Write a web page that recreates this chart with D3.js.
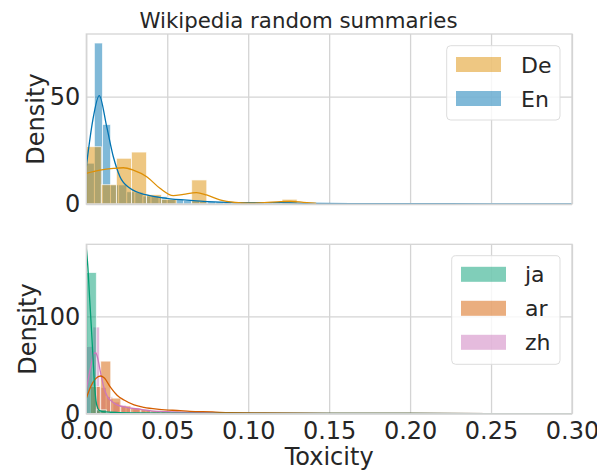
<!DOCTYPE html>
<html>
<head>
<meta charset="utf-8">
<script src="https://cdn.jsdelivr.net/npm/d3@7"></script>
<style>
  html, body { margin: 0; padding: 0; background: #fff; }
  svg { display: block; }
  text { font-family: "DejaVu Sans", sans-serif; fill: #262626; }
</style>
</head>
<body>
<svg id="chart" width="597" height="470"></svg>
<script>
// ---------------- data ----------------
const title = "Wikipedia random summaries";
const xLabel = "Toxicity";
const yLabel = "Density";
const xTicks = [0, 0.05, 0.10, 0.15, 0.20, 0.25, 0.30];
const xTickLabels = ["0.00", "0.05", "0.10", "0.15", "0.20", "0.25", "0.30"];
const topYTicks = [0, 50];
const bottomYTicks = [0, 100];

const topSeries = ["De", "En"];
const bottomSeries = ["ja", "ar", "zh"];

// histogram bins (start, width, densities)
const deBinStart = 0, deBinWidth = 0.0093;
const deDensity = [26.7, 9.0, 21.3, 24.2, 4.4, 2.2, 0, 11.2, 0, 0, 0, 0, 0, 2.2];

const enBinStart = 0, enBinWidth = 0.005;
const enDensity = [19, 75, 37, 8.9, 8.9, 5.7, 5.5, 3.7, 3.8, 3.4, 2.2, 2.2, 1.6, 1.5, 1.2,
  1.1, 1.0, 0.9, 0.8, 0.7, 0.6, 0.6, 0.5, 0.5, 0.4, 0.5, 0.4, 0.3, 0.3, 0.3,
  0.2, 0.2, 0.2, 0.2, 0.2, 0.15, 0.15, 0.15, 0.1, 0.1, 0.1, 0.1, 0.1, 0.1, 0.1,
  0.1, 0.1, 0.1, 0.1, 0.1, 0.1, 0.1, 0.1, 0.1, 0.1, 0.1, 0.1, 0.1, 0.1, 0.1];

const jaBinStart = 0, jaBinWidth = 0.0062;
const jaDensity = [145, 4, 1.2, 0.8, 0.6, 0.5, 0.5, 0.4, 0.4, 0.3, 0.3, 0.3, 0.3, 0.3, 0.3,
  0.3, 0.3, 0.3, 0.3, 0.3, 0.3, 0.3, 0.3, 0.3, 0.3, 0.3, 0.3, 0.3, 0.3, 0.3,
  0.3, 0.3, 0.3, 0.3, 0.3, 0.3, 0.3, 0.3, 0.3, 0.3, 0.3, 0.3, 0.3, 0.3, 0.3, 0.3, 0.3, 0.3];

const arBinStart = 0.0027, arBinWidth = 0.0062;
const arDensity = [28, 54, 16, 8, 5.5, 4.2, 3.2, 2.6, 2.1, 1.7, 1.4, 1.2, 1.0, 0.9, 0.8,
  0.7, 0.6, 0.5, 0.5, 0.4, 0.4, 0.3, 0.3, 0.3, 0.3, 0.3, 0.3, 0.3, 0.3, 0.3,
  0.3, 0.3, 0.3, 0.3, 0.3, 0.3, 0.3, 0.3, 0.3, 0.3, 0.3, 0.3, 0.3, 0.3, 0.3, 0.3, 0.3, 0.3];

const zhBinStart = 0, zhBinWidth = 0.0041;
const zhDensity = [69, 89, 27, 17.5, 12, 9, 6.5, 5, 4, 3.2, 2.6, 2.2, 1.8, 1.5, 1.3,
  1.1, 1.0, 0.9, 0.8, 0.7, 0.6, 0.5, 0.5, 0.4, 0.4, 0.3, 0.3, 0.3, 0.3, 0.3,
  0.3, 0.3, 0.3, 0.3, 0.3, 0.3, 0.3, 0.3, 0.3, 0.3, 0.3, 0.3, 0.3, 0.3, 0.3,
  0.3, 0.3, 0.3, 0.3, 0.3, 0.3, 0.3, 0.3, 0.3, 0.3, 0.3, 0.3, 0.3, 0.3, 0.3,
  0.3, 0.3, 0.3, 0.3, 0.3, 0.3, 0.3, 0.3, 0.3, 0.3, 0.3, 0.3, 0.3];

// KDE curves
const deKdeX = [0, 0.0085, 0.0167, 0.0229, 0.029, 0.0373, 0.0455, 0.0537, 0.06, 0.068, 0.0743, 0.0825, 0.092, 0.1, 0.11, 0.12, 0.126, 0.134, 0.142];
const deKdeY = [14.3, 15.8, 16.6, 16.9, 15.8, 12.7, 7.3, 3.9, 4.5, 5.3, 4.2, 1.9, 0.7, 0.4, 0.6, 1.1, 1.2, 0.8, 0.3];
const enKdeX = [0, 0.004, 0.008, 0.0126, 0.0167, 0.0208, 0.027, 0.0373, 0.0496, 0.066, 0.0825, 0.1, 0.12, 0.14, 0.17, 0.2, 0.25, 0.3];
const enKdeY = [17.4, 39, 50.5, 36, 22, 12.7, 7.3, 4.2, 2.6, 1.6, 0.9, 0.6, 0.6, 0.3, 0.2, 0.15, 0.1, 0.1];
const jaKdeX = [0, 0.001, 0.002, 0.003, 0.004, 0.005, 0.006, 0.007, 0.008, 0.01, 0.015, 0.02, 0.03, 0.05, 0.1, 0.2, 0.3];
const jaKdeY = [170, 150, 120, 92, 62, 32, 13, 6, 3.5, 2.2, 1.5, 1.2, 0.8, 0.5, 0.3, 0.2, 0.1];
const arKdeX = [0, 0.0027, 0.0058, 0.0089, 0.011, 0.015, 0.019, 0.0233, 0.0295, 0.0356, 0.045, 0.058, 0.064, 0.078, 0.0887, 0.11, 0.15, 0.2, 0.3];
const arKdeY = [15.8, 27.7, 36, 38.7, 37, 27, 19, 14, 9, 6.5, 4.5, 3.1, 2.4, 1.8, 1.0, 0.7, 0.4, 0.2, 0.1];
const zhKdeX = [0, 0.0027, 0.0048, 0.0058, 0.0068, 0.0089, 0.011, 0.013, 0.016, 0.019, 0.025, 0.0336, 0.04, 0.05, 0.07, 0.1, 0.15, 0.2, 0.3];
const zhKdeY = [24, 48, 62, 62.6, 58.5, 41.5, 26, 17.5, 12.3, 9, 6.5, 4.5, 3, 2, 1.2, 0.6, 0.3, 0.2, 0.1];

const colors = { De: "#DE8F05", En: "#0173B2", ja: "#029E73", ar: "#D55E00", zh: "#CC78BC" };

// ---------------- layout ----------------
const svg = d3.select("#chart");
const W = 597;
const left = 86.3, right = 572;
const topPanel = { y0: 34, y1: 204, yMax: 79.2 };
const botPanel = { y0: 244.3, y1: 413.7, yMax: 174 };
const gridColor = "#d4d4d4";
const fs = 24;          // axis labels / ticks
const titleFs = 21.3;
const legendFs = 22;

const x = d3.scaleLinear().domain([0, 0.3]).range([left, right]);
const yTop = d3.scaleLinear().domain([0, topPanel.yMax]).range([topPanel.y1, topPanel.y0]);
const yBot = d3.scaleLinear().domain([0, botPanel.yMax]).range([botPanel.y1, botPanel.y0]);

function binsOf(start, width, dens) {
  return dens.map((d, i) => ({ x0: start + i * width, x1: start + (i + 1) * width, d }));
}

function drawPanel(p, y, yTicks, showXLabels) {
  const g = svg.append("g");
  g.append("g")
    .attr("transform", `translate(0,${p.y1})`)
    .call(d3.axisBottom(x).tickValues(xTicks).tickSize(-(p.y1 - p.y0)).tickFormat(""))
    .call(a => a.select(".domain").remove())
    .call(a => a.selectAll("line").attr("stroke", gridColor).attr("stroke-width", 1.3));
  g.append("g")
    .attr("transform", `translate(${left},0)`)
    .call(d3.axisLeft(y).tickValues(yTicks).tickSize(-(right - left)).tickPadding(6).tickFormat(d3.format("d")))
    .call(a => a.select(".domain").remove())
    .call(a => a.selectAll("line").attr("stroke", gridColor).attr("stroke-width", 1.3))
    .call(a => a.selectAll("text").attr("font-size", fs).attr("fill", "#262626").attr("font-family", "DejaVu Sans"));
  if (showXLabels) {
    g.append("g")
      .attr("transform", `translate(0,${p.y1})`)
      .call(d3.axisBottom(x).tickValues(xTicks).tickSize(0).tickPadding(8).tickFormat((d, i) => xTickLabels[i]))
      .call(a => a.select(".domain").remove())
      .call(a => a.selectAll("text").attr("font-size", fs).attr("fill", "#262626").attr("font-family", "DejaVu Sans"));
  }
  return g;
}

function drawHist(g, y, bins, color) {
  g.append("g").selectAll("rect").data(bins).join("rect")
    .attr("x", d => x(d.x0))
    .attr("width", d => Math.max(0, x(d.x1) - x(d.x0)))
    .attr("y", d => y(d.d))
    .attr("height", d => y(0) - y(d.d))
    .attr("fill", color).attr("fill-opacity", 0.5)
    .attr("stroke", "#ffffff").attr("stroke-opacity", 0.75).attr("stroke-width", 0.9);
}

function drawKde(g, y, xs, ys, color) {
  const pts = xs.map((v, i) => [v, ys[i]]);
  g.append("path")
    .datum(pts)
    .attr("fill", "none")
    .attr("stroke", color)
    .attr("stroke-width", 1.3)
    .attr("d", d3.line().x(d => x(d[0])).y(d => y(d[1])).curve(d3.curveMonotoneX));
}

function clip(id, p) {
  svg.append("clipPath").attr("id", id).append("rect")
    .attr("x", left).attr("y", p.y0).attr("width", right - left).attr("height", p.y1 - p.y0);
}
clip("clipTop", topPanel);
clip("clipBot", botPanel);

// ---- top panel ----
drawPanel(topPanel, yTop, topYTicks, false);
const mt = svg.append("g").attr("clip-path", "url(#clipTop)");
drawHist(mt, yTop, binsOf(enBinStart, enBinWidth, enDensity), colors.En);
drawHist(mt, yTop, binsOf(deBinStart, deBinWidth, deDensity), colors.De);
drawKde(mt, yTop, enKdeX, enKdeY, colors.En);
drawKde(mt, yTop, deKdeX, deKdeY, colors.De);

// ---- bottom panel ----
drawPanel(botPanel, yBot, bottomYTicks, true);
const mb = svg.append("g").attr("clip-path", "url(#clipBot)");
drawHist(mb, yBot, binsOf(zhBinStart, zhBinWidth, zhDensity), colors.zh);
drawHist(mb, yBot, binsOf(arBinStart, arBinWidth, arDensity), colors.ar);
drawHist(mb, yBot, binsOf(jaBinStart, jaBinWidth, jaDensity), colors.ja);
drawKde(mb, yBot, zhKdeX, zhKdeY, colors.zh);
drawKde(mb, yBot, arKdeX, arKdeY, colors.ar);
drawKde(mb, yBot, jaKdeX, jaKdeY, colors.ja);

// frames
[topPanel, botPanel].forEach(p => {
  svg.append("rect").attr("x", left).attr("y", p.y0).attr("width", right - left).attr("height", p.y1 - p.y0)
    .attr("fill", "none").attr("stroke", gridColor).attr("stroke-width", 1.3);
});

// titles and labels (figure-level title centred on the figure)
svg.append("text").attr("x", W / 2).attr("y", 28).attr("text-anchor", "middle")
  .attr("font-size", titleFs).text(title);
svg.append("text").attr("x", (left + right) / 2).attr("y", 465).attr("text-anchor", "middle")
  .attr("font-size", fs).text(xLabel);
svg.append("text").attr("transform", `translate(44,${(topPanel.y0 + topPanel.y1) / 2}) rotate(-90)`)
  .attr("text-anchor", "middle").attr("font-size", fs).text(yLabel);
svg.append("text").attr("transform", `translate(36,${(botPanel.y0 + botPanel.y1) / 2}) rotate(-90)`)
  .attr("text-anchor", "middle").attr("font-size", fs).text(yLabel);

// legends
function legend(items, bx, by, bw, bh, patchX, textX, firstRowY) {
  const lg = svg.append("g");
  lg.append("rect").attr("x", bx).attr("y", by).attr("width", bw).attr("height", bh)
    .attr("rx", 4).attr("fill", "#ffffff").attr("fill-opacity", 0.8)
    .attr("stroke", "#dddddd").attr("stroke-width", 1);
  items.forEach((name, i) => {
    const cy = firstRowY + i * 34;
    lg.append("rect").attr("x", patchX).attr("y", cy - 7.5).attr("width", 45).attr("height", 15)
      .attr("fill", colors[name]).attr("fill-opacity", 0.5);
    lg.append("text").attr("x", textX).attr("y", cy + 8).attr("font-size", legendFs).text(name);
  });
}
legend(topSeries, 446.7, 45.7, 113.3, 74.3, 456, 521, 64.5);
legend(bottomSeries, 451.7, 255.7, 108.3, 108.6, 461, 525, 274.3);
</script>
</body>
</html>
